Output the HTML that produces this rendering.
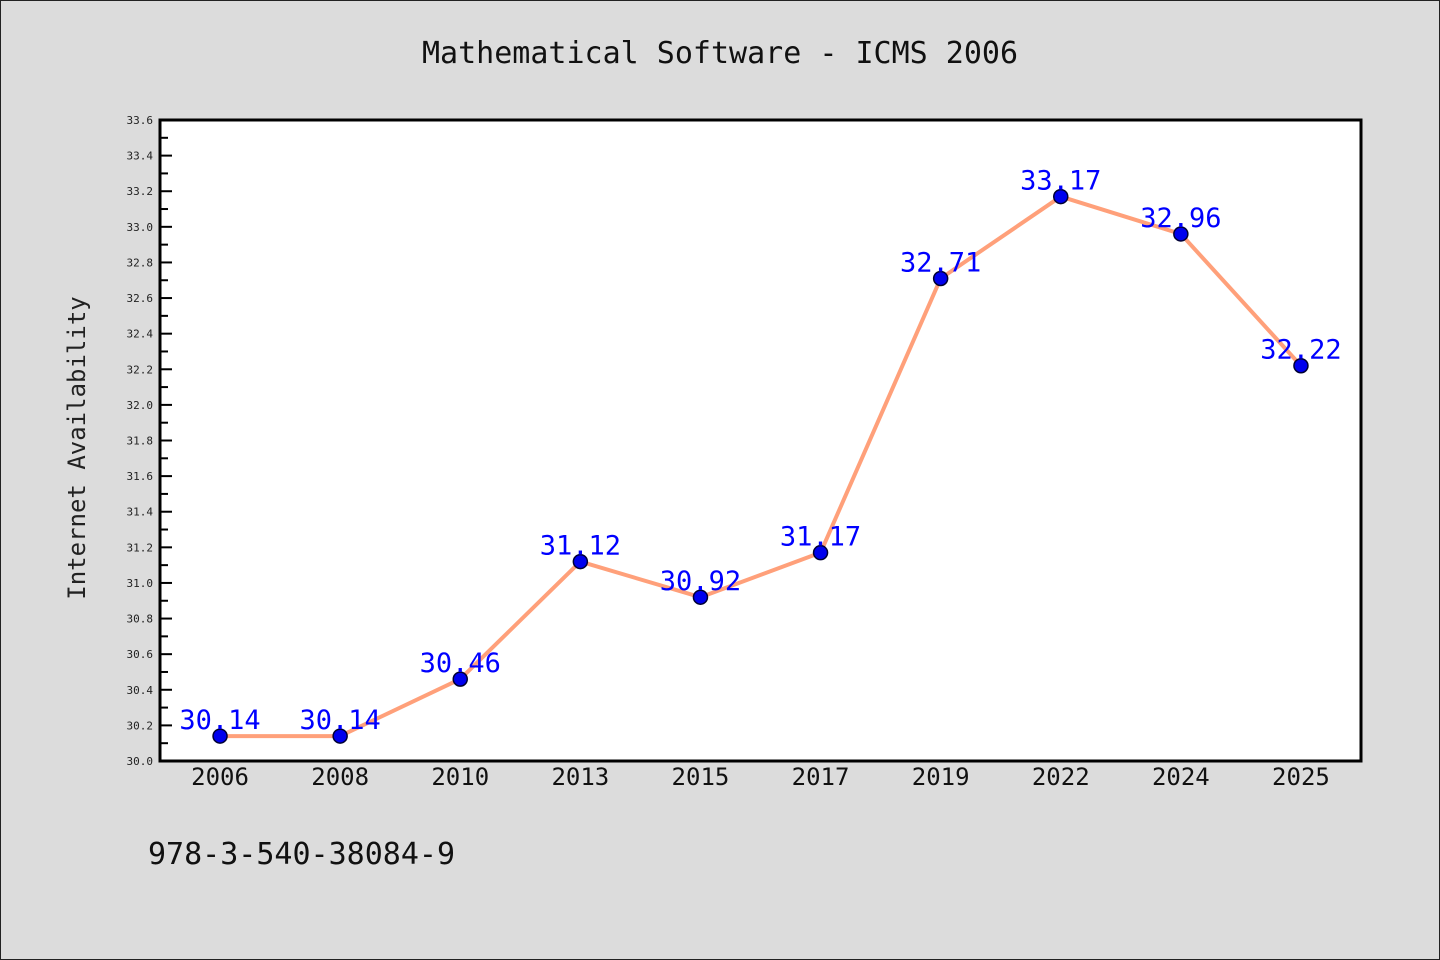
<!DOCTYPE html>
<html><head><meta charset="utf-8"><style>
body{margin:0;background:#dcdcdc;}
svg{display:block;font-family:"WenQuanYi Zen Hei","DejaVu Sans Mono",sans-serif;}
</style></head><body>
<svg id="chart" width="1440" height="960">
<rect x="0.5" y="0.5" width="1439" height="959" fill="#dcdcdc" stroke="#222"/>
<text x="720" y="63" text-anchor="middle" font-size="30" fill="#111">Mathematical Software - ICMS 2006</text>
<rect x="160" y="120" width="1201" height="641" fill="#fff"/>
<g id="yaxis"></g>
<g id="xaxis"></g>
<g id="marks"></g>
<rect x="160" y="120" width="1201" height="641" fill="none" stroke="#000" stroke-width="3"/>
<text transform="translate(85,448) rotate(-90)" text-anchor="middle" font-size="24" fill="#222">Internet Availability</text>
<text x="148" y="864" font-size="30" fill="#111">978-3-540-38084-9</text>
</svg>
<script>
const categories=["2006","2008","2010","2013","2015","2017","2019","2022","2024","2025"];
const values=[30.14,30.14,30.46,31.12,30.92,31.17,32.71,33.17,32.96,32.22];
const yTicks=[30.0,30.2,30.4,30.6,30.8,31.0,31.2,31.4,31.6,31.8,32.0,32.2,32.4,32.6,32.8,33.0,33.2,33.4,33.6];
const yMin=30.0,yMax=33.6;
const NS="http://www.w3.org/2000/svg";
const L=160,R=1361,T=120,B=761;
function y(v){return B-(v-yMin)/(yMax-yMin)*(B-T);}
function x(i){return L+(R-L)/categories.length*(i+0.5);}
function mk(tag,attrs,parent,text){const e=document.createElementNS(NS,tag);for(const k in attrs)e.setAttribute(k,attrs[k]);if(text!==undefined)e.textContent=text;parent.appendChild(e);return e;}
const ya=document.getElementById('yaxis'),xa=document.getElementById('xaxis'),mg=document.getElementById('marks');
yTicks.forEach((t,i)=>{
  const yy=y(t);
  const tk=mk('line',{x1:L,x2:L+12,y1:yy,y2:yy,stroke:'#000','stroke-width':2},ya);
  
  
  const lb=mk('text',{x:153,y:yy+4,'text-anchor':'end','font-size':11,fill:'#222'},ya,t.toFixed(1));
  
  
  if(i<yTicks.length-1){
    const ym=y(t+0.1);
    const mt=mk('line',{x1:L,x2:L+8,y1:ym,y2:ym,stroke:'#000','stroke-width':2},ya);
    
    
  }
});
categories.forEach((c,i)=>{
  const lb=mk('text',{x:x(i),y:785,'text-anchor':'middle','font-size':24,fill:'#111'},xa,c);
  
  
});
const pts=values.map((v,i)=>x(i)+','+y(v)).join(' ');
const line=mk('polyline',{points:pts,fill:'none',stroke:'#ffa07a','stroke-width':4,'stroke-linejoin':'round'},mg);


values.forEach((v,i)=>{
  const c=mk('circle',{cx:x(i),cy:y(v),r:7,fill:'#0000ee',stroke:'#000033','stroke-width':1.5},mg);
  
  
});
values.forEach((v,i)=>{
  const t=mk('text',{x:x(i),y:y(v)-7,'text-anchor':'middle','font-size':27,fill:'#0000ff'},mg,v.toFixed(2));
  
  
});
</script>
</body></html>
